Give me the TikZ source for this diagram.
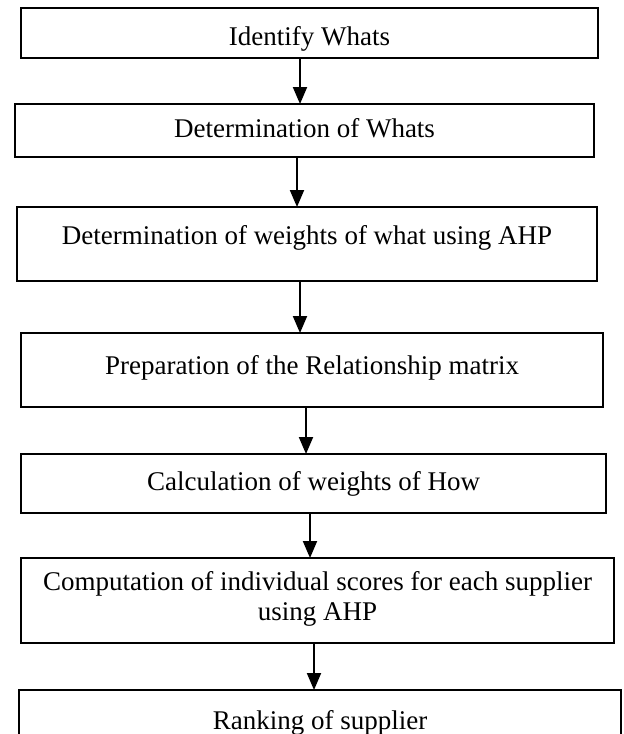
\documentclass[tikz,border=0pt]{standalone}
\usepackage{fontspec}
\setmainfont{Liberation Serif}
\usetikzlibrary{arrows.meta}
\begin{document}
\begin{tikzpicture}[x=1pt,y=-1pt,
  box/.style={draw=black, line width=1.5pt, inner sep=0pt, outer sep=0pt, rectangle},
  lbl/.style={inner sep=0pt, anchor=base, font=\fontsize{27}{30}\selectfont},
  arr/.style={line width=2pt, -{Triangle[length=17pt,width=14pt]}}]
\useasboundingbox (0,0) rectangle (624,734);
\clip (0,0) rectangle (624,734);
% boxes
\node[box, minimum width=577pt, minimum height=50pt] (b1) at (309.5,33) {};
\node[box, minimum width=579pt, minimum height=53pt] (b2) at (304.5,130.5) {};
\node[box, minimum width=580pt, minimum height=74pt] (b3) at (307,244) {};
\node[box, minimum width=582pt, minimum height=74pt] (b4) at (312,370) {};
\node[box, minimum width=585pt, minimum height=59pt] (b5) at (313.5,483.5) {};
\node[box, minimum width=593pt, minimum height=85pt] (b6) at (317.5,600.5) {};
\node[box, minimum width=602pt, minimum height=80pt] (b7) at (320,730) {};
% texts
\node[lbl] (t1) at (309.5,45) {Identify Whats};
\node[lbl] (t2) at (304.5,137) {Determination of Whats};
\node[lbl] (t3) at (307,244) {Determination of weights of what using AHP};
\node[lbl] (t4) at (312,374) {Preparation of the Relationship matrix};
\node[lbl] (t5) at (313.5,490) {Calculation of weights of How};
\node[lbl] (t6a) at (317.5,590) {Computation of individual scores for each supplier};
\node[lbl] (t6b) at (317.5,620) {using AHP};
\node[lbl] (t7) at (320,729) {Ranking of supplier};
% arrow x positions
\coordinate (x1) at (300,0);
\coordinate (x2) at (297,0);
\coordinate (x3) at (300,0);
\coordinate (x4) at (306,0);
\coordinate (x5) at (310,0);
\coordinate (x6) at (314,0);
\draw[arr] (b1.south -| x1) -- (b2.north -| x1);
\draw[arr] (b2.south -| x2) -- (b3.north -| x2);
\draw[arr] (b3.south -| x3) -- (b4.north -| x3);
\draw[arr] (b4.south -| x4) -- (b5.north -| x4);
\draw[arr] (b5.south -| x5) -- (b6.north -| x5);
\draw[arr] (b6.south -| x6) -- (b7.north -| x6);
\end{tikzpicture}
\end{document}
